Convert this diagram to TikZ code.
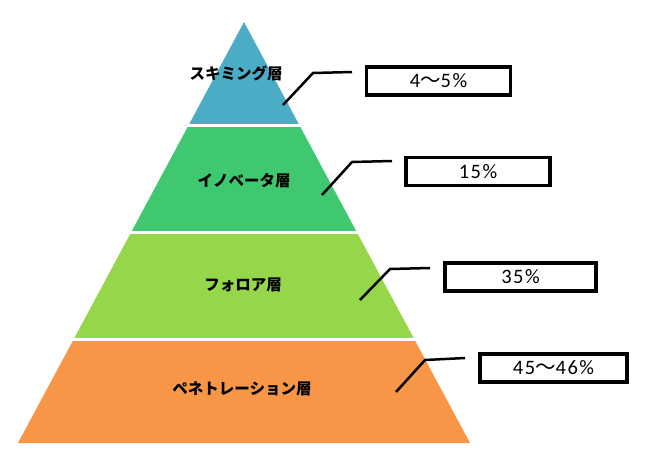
\documentclass[tikz,border=0pt]{standalone}
\usepackage{fontspec}
\setmainfont{Noto Sans CJK JP}
\newfontfamily\ratefont[LetterSpace=7]{Carlito}
\newfontfamily\cjkfont{Noto Sans CJK JP}
\definecolor{skimcol}{RGB}{75,172,198}
\definecolor{innocol}{RGB}{64,200,112}
\definecolor{follcol}{RGB}{150,214,74}
\definecolor{penecol}{RGB}{247,150,70}
\newcommand{\wave}{{\cjkfont 〜}}
\begin{document}
\begin{tikzpicture}[x=1pt, y=-1pt,
        layer/.style={font=\fontsize{15.5}{17}\selectfont\bfseries, inner sep=0pt},
        ratebox/.style={draw, line width=3.4pt, minimum width=144pt, minimum height=28pt,
            inner sep=0pt, font=\fontsize{20.5}{22}\selectfont\ratefont},
        leader/.style={line width=2.5pt}]
    \useasboundingbox (0, 0) rectangle (651, 464);

    \coordinate (apex) at (244, 22);
    \coordinate (bl) at (18, 443);
    \coordinate (br) at (470, 443);

    \foreach \top/\bot/\col in {22/123/skimcol, 127/230/innocol, 234/337/follcol, 341/443/penecol} {
        \begin{scope}
            \clip (0, \top) rectangle (651, \bot);
            \fill[\col] (apex) -- (bl) -- (br) -- cycle;
        \end{scope}
    }

    \node[layer] (skim) at (236, 73) {スキミング層};
    \node[layer] (inno) at (244, 181) {イノベータ層};
    \node[layer] (foll) at (243, 285) {フォロア層};
    \node[layer] (pene) at (242, 389) {ペネトレーション層};

    \node[ratebox] (r1) at (438.5, 81) {4\wave5\%};
    \node[ratebox] (r2) at (478, 171.5) {15\%};
    \node[ratebox, minimum width=151pt] (r3) at (520.5, 277) {35\%};
    \node[ratebox, minimum width=147pt] (r4) at (553.5, 368) {45\wave46\%};

    \coordinate (l1a) at (352, 72);
    \coordinate (l1b) at (313, 73);
    \coordinate (l1c) at (283, 105);
    \coordinate (l2a) at (392, 161);
    \coordinate (l2b) at (352, 162);
    \coordinate (l2c) at (322, 195);
    \coordinate (l3a) at (430, 268);
    \coordinate (l3b) at (390, 269);
    \coordinate (l3c) at (360, 300);
    \coordinate (l4a) at (465, 358);
    \coordinate (l4b) at (425, 360);
    \coordinate (l4c) at (396, 392);

    \draw[leader] (l1a) -- (l1b) -- (l1c);
    \draw[leader] (l2a) -- (l2b) -- (l2c);
    \draw[leader] (l3a) -- (l3b) -- (l3c);
    \draw[leader] (l4a) -- (l4b) -- (l4c);
\end{tikzpicture}
\end{document}
